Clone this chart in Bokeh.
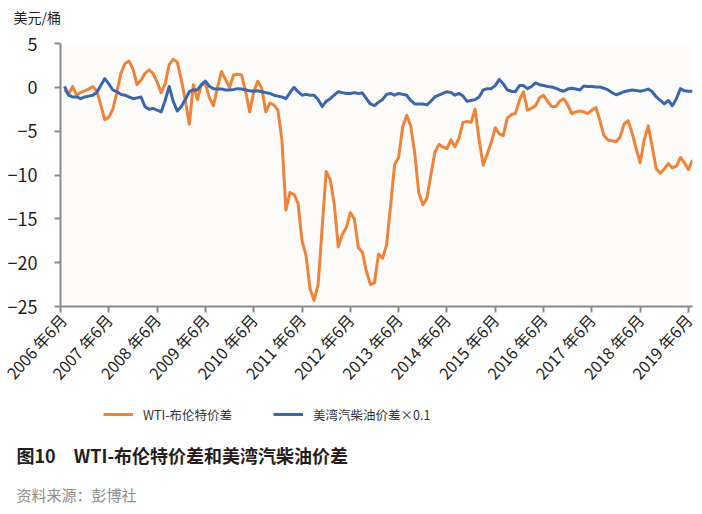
from bokeh.plotting import figure
from bokeh.layouts import column
from bokeh.models import Range1d, FixedTicker, Legend, LegendItem, ColumnDataSource, Title
from bokeh.embed import file_html
from bokeh.resources import INLINE
import math

# Month offsets from June 2006 (0 = 2006-06), monthly observations
months = list(range(1, 158))

# WTI minus Brent, USD/bbl
wti_brent = [
    -0.3, -0.8, 0.1, -0.9, -0.6, -0.4, -0.2, 0.1, -0.4, -2.0,
    -3.7, -3.4, -2.5, -0.6, 1.6, 2.7, 3.0, 2.1, 0.3, 0.8,
    1.6, 2.0, 1.6, 0.6, -0.6, 0.4, 2.6, 3.2, 2.9, 0.9,
    -1.5, -4.2, 0.3, -1.4, 0.3, 0.4, -1.2, -2.1, 0.0, 1.8,
    0.9, 0.0, 1.4, 1.5, 1.4, -0.5, -2.8, -0.5, 0.7, -0.1,
    -2.8, -1.8, -2.0, -2.6, -6.0, -14.0, -12.0, -12.2, -13.2, -17.5,
    -19.2, -23.0, -24.3, -22.5, -16.0, -9.6, -10.5, -13.3, -18.2, -16.8,
    -16.0, -14.3, -15.0, -18.3, -18.8, -21.0, -22.5, -22.3, -19.0, -19.5,
    -18.0, -13.5, -8.8, -8.0, -4.5, -3.2, -4.4, -7.5, -12.0, -13.4,
    -12.7, -10.0, -7.4, -6.5, -6.8, -7.0, -6.0, -6.8, -5.8, -4.0,
    -3.9, -4.0, -2.5, -6.0, -8.9, -7.6, -6.3, -4.6, -5.3, -5.5,
    -3.5, -3.1, -3.0, -1.5, -0.5, -2.6, -2.4, -2.1, -1.2, -0.9,
    -1.6, -2.2, -2.2, -1.6, -1.3, -2.0, -3.0, -2.8, -2.7, -2.8,
    -3.0, -2.6, -2.3, -3.8, -5.5, -6.0, -6.1, -6.2, -5.7, -4.2,
    -3.8, -5.2, -7.0, -8.6, -6.0, -4.4, -6.8, -9.3, -9.8, -9.3,
    -8.7, -9.2, -9.0, -8.0, -8.6, -9.4, -8.3,
]

# US Gulf gasoline-diesel spread, scaled by 0.1
gulf_spread = [
    0.1, -0.9, -1.1, -1.1, -1.3, -1.1, -1.0, -0.9, -0.6, 0.2,
    1.0, 0.4, -0.3, -0.5, -0.8, -0.9, -1.1, -1.3, -1.2, -1.1,
    -2.2, -2.5, -2.4, -2.6, -2.8, -1.5, 0.1, -1.6, -2.7, -2.2,
    -1.4, -0.5, -0.3, -0.3, 0.3, 0.7, 0.1, -0.15, -0.2, -0.2,
    -0.3, -0.3, -0.25, -0.15, -0.2, -0.3, -0.4, -0.45, -0.4, -0.5,
    -0.6, -0.7, -0.9, -1.0, -1.1, -1.3, -0.6, 0.0, -0.5, -0.9,
    -0.8, -0.9, -0.9, -1.4, -2.2, -1.6, -1.3, -0.9, -0.5, -0.6,
    -0.7, -0.7, -0.6, -0.7, -0.65, -1.3, -1.9, -2.1, -1.7, -1.4,
    -0.8, -0.7, -0.9, -0.7, -0.8, -0.9, -1.5, -1.9, -1.9, -1.9,
    -2.0, -1.6, -1.1, -0.9, -0.7, -0.5, -0.6, -0.9, -0.7, -1.0,
    -1.6, -1.5, -1.4, -1.1, -0.3, -0.15, -0.15, 0.2, 0.9, 0.4,
    -0.3, -0.45, -0.5, 0.2, 0.2, -0.15, 0.1, 0.5, 0.3, 0.2,
    0.1, 0.05, -0.1, -0.3, -0.45, -0.2, -0.1, -0.2, -0.3, 0.15,
    0.1, 0.1, 0.05, 0.05, -0.1, -0.3, -0.6, -0.85, -0.7, -0.5,
    -0.4, -0.3, -0.35, -0.45, -0.35, -0.2, -0.5, -1.1, -1.5, -1.9,
    -1.5, -2.1, -1.3, -0.15, -0.4, -0.45, -0.45,
]

tick_months = [0, 12, 24, 36, 48, 60, 72, 84, 96, 108, 120, 132, 144, 156]
tick_labels = ["2006 年6月", "2007 年6月", "2008 年6月", "2009 年6月", "2010 年6月",
               "2011 年6月", "2012 年6月", "2013 年6月", "2014 年6月", "2015 年6月",
               "2016 年6月", "2017 年6月", "2018 年6月", "2019 年6月"]
y_ticks = [5, 0, -5, -10, -15, -20, -25]

series_names = ["WTI-布伦特价差", "美湾汽柴油价差×0.1"]
unit_text = "美元/桶"
title_text = "图10\u3000WTI-布伦特价差和美湾汽柴油价差"
source_text = "资料来源：彭博社"

FONT = "Noto Sans CJK SC"
ORANGE = "#EE8339"
BLUE = "#3A66AC"
AXIS = "#8A8A8A"
INK = "#231F20"

W = 702
H_HEAD, H_CHART, H_NOTES = 31, 367, 116
LEFT, RIGHT = 60, 692
FRAME_TOP, FRAME_BOTTOM = 12, 275   # within the chart block


def strip(height, border_top, border_bottom):
    """Axis-less band used to hold text panels around the chart."""
    f = figure(width=W, height=height, output_backend="svg", toolbar_location=None,
               x_range=Range1d(0, 1), y_range=Range1d(0, 1),
               x_axis_location=None, y_axis_location=None,
               min_border_left=LEFT, min_border_right=W - RIGHT,
               min_border_top=border_top, min_border_bottom=border_bottom)
    f.outline_line_color = None
    f.xgrid.visible = False
    f.ygrid.visible = False
    return f


# ---- unit label ---------------------------------------------------------------
head = strip(H_HEAD, 0, H_HEAD - 1)
head.add_layout(Title(text=unit_text, align="left", offset=13 - LEFT, standoff=8,
                      vertical_align="middle",
                      text_font=FONT, text_font_size="14px", text_font_style="normal",
                      text_color=INK), "below")

# ---- main chart -------------------------------------------------------------
p = figure(width=W, height=H_CHART, output_backend="svg", toolbar_location=None,
           x_range=Range1d(0, 157), y_range=Range1d(-25, 5),
           min_border_left=LEFT, min_border_top=FRAME_TOP,
           min_border_right=W - RIGHT, min_border_bottom=H_CHART - FRAME_BOTTOM)
p.outline_line_color = None
p.background_fill_color = "#FEFCFA"
p.border_fill_color = "white"
p.xgrid.visible = False
p.ygrid.visible = False

src = ColumnDataSource(dict(m=months, wti=wti_brent, gulf=gulf_spread))
p.line("m", "wti", source=src, line_color=ORANGE, line_width=3, line_join="round")
p.line("m", "gulf", source=src, line_color=BLUE, line_width=3, line_join="round")

xa = p.xaxis[0]
xa.ticker = FixedTicker(ticks=tick_months)
xa.major_label_overrides = {t: s for t, s in zip(tick_months, tick_labels)}
xa.major_label_orientation = math.radians(48)
xa.minor_tick_line_color = None
xa.axis_line_color = AXIS
xa.axis_line_width = 2
xa.major_tick_line_color = AXIS
xa.major_tick_line_width = 2
xa.major_tick_in = 0
xa.major_tick_out = 6
xa.major_label_text_font = FONT
xa.major_label_text_font_size = "16px"
xa.major_label_text_color = INK
xa.major_label_standoff = 4

ya = p.yaxis[0]
ya.ticker = FixedTicker(ticks=y_ticks)
ya.minor_tick_line_color = None
ya.axis_line_color = AXIS
ya.axis_line_width = 2
ya.major_tick_line_color = AXIS
ya.major_tick_line_width = 2
ya.major_tick_in = 0
ya.major_tick_out = 6
ya.major_label_text_font = FONT
ya.major_label_text_font_size = "18px"
ya.major_label_text_color = INK
ya.major_label_standoff = 17

# ---- legend, caption and source underneath ---------------------------------
LEG_FRAME = 36
notes = strip(H_NOTES, 0, H_NOTES - LEG_FRAME)

# legend keys only; nothing is plotted by these two renderers
nan = float("nan")
key_wti = notes.line(x=[nan], y=[nan], line_color=ORANGE, line_width=3)
key_gulf = notes.line(x=[nan], y=[nan], line_color=BLUE, line_width=3)

legend = Legend(items=[LegendItem(label=series_names[0], renderers=[key_wti]),
                       LegendItem(label=series_names[1], renderers=[key_gulf])],
                orientation="horizontal", location=(103 - LEFT, 10),
                padding=0, margin=0, spacing=41, glyph_width=30, glyph_height=20,
                label_standoff=10, label_height=20,
                label_text_font=FONT, label_text_font_size="12.5px",
                label_text_color="#333333", border_line_color=None,
                background_fill_alpha=0)
notes.add_layout(legend)

notes.add_layout(Title(text=title_text, align="left", offset=16 - LEFT, standoff=12,
                       vertical_align="middle",
                       text_font=FONT, text_font_size="18px", text_font_style="bold",
                       text_color=INK), "below")
notes.add_layout(Title(text=source_text, align="left", offset=16 - LEFT, standoff=17,
                       vertical_align="middle",
                       text_font=FONT, text_font_size="15px", text_font_style="normal",
                       text_color="#8C8C8C"), "below")

open("out.html", "w").write(file_html(column(head, p, notes, spacing=0), INLINE))
